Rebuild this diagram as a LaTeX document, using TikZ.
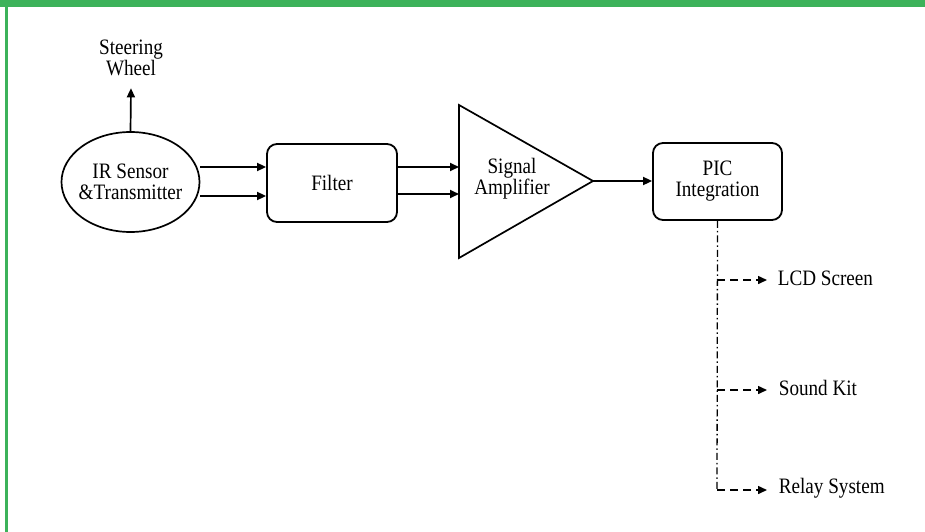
\documentclass[tikz,border=0pt]{standalone}
\usepackage{fontspec}
\setmainfont{Liberation Serif}[FakeStretch=0.87]
\usetikzlibrary{arrows.meta,shapes.geometric}
\definecolor{framegreen}{RGB}{60,178,90}
\begin{document}
\begin{tikzpicture}[x=1pt,y=-1pt,
  line width=1.7pt,
  every node/.style={font=\fontsize{22}{21}\selectfont, align=center, inner sep=0pt},
  blk/.style={draw, rounded corners=10pt, line width=1.8pt},
  arr/.style={-{Triangle[length=9pt,width=8pt]}},
  darr/.style={dash pattern=on 8pt off 5pt, line width=1.5pt, -{Triangle[length=9pt,width=8pt]}},
  bus/.style={dash pattern=on 7pt off 3pt on 1.5pt off 3pt, line width=1.3pt}]
\useasboundingbox (0,0) rectangle (925,532);
\fill[white] (0,0) rectangle (925,532);
\fill[framegreen] (0,0) rectangle (925,7);
\fill[framegreen] (5,0) rectangle (7.5,532);

% nodes
\node (steer) at (131,57.5) {Steering\\Wheel};
\node[draw, ellipse, minimum width=138pt, minimum height=100pt, line width=1.7pt] (ir) at (130.5,182) {};
\node (irt) at (ir.center) {IR Sensor\\\&Transmitter};
\node[blk, minimum width=130pt, minimum height=78pt] (filter) at (332,183) {Filter};
\draw[line width=1.7pt] (459,105) -- (593,181) -- (459,258) -- cycle;
\coordinate (ampin) at (459,181);
\coordinate (ampout) at (593,181);
\node (amp) at (512,179) {Signal\\Amplifier};
\node[blk, minimum width=129pt, minimum height=77pt] (pic) at (717.5,181.5) {PIC\\Integration};

\coordinate (b1) at (717,280);
\coordinate (b2) at (717,390);
\coordinate (b3) at (717,490);
\node[anchor=west] (lcd) at (777,278) {LCD Screen};
\node[anchor=west] (sound) at (778,388) {Sound Kit};
\node[anchor=west] (relay) at (778,488) {Relay System};

% connectors
\draw[arr] (ir.north) -- ([yshift=-12pt]steer.south);
\draw[arr] ([yshift=15pt]ir.east) -- ([yshift=15pt]ir.east -| filter.west);
\draw[arr] ([yshift=-14pt]ir.east) -- ([yshift=-14pt]ir.east -| filter.west);
\draw[arr] ([yshift=16pt]filter.east) -- ([yshift=16pt]filter.east -| ampin);
\draw[arr] ([yshift=-11pt]filter.east) -- ([yshift=-11pt]filter.east -| ampin);
\draw[arr] (ampout) -- (ampout -| pic.west);
\draw[bus] (pic.south) -- (b3);
\draw[darr] (b1) -- (b1 -| 767,0);
\draw[darr] (b2) -- (b2 -| 767,0);
\draw[darr] (b3) -- (b3 -| 767,0);
\end{tikzpicture}
\end{document}
